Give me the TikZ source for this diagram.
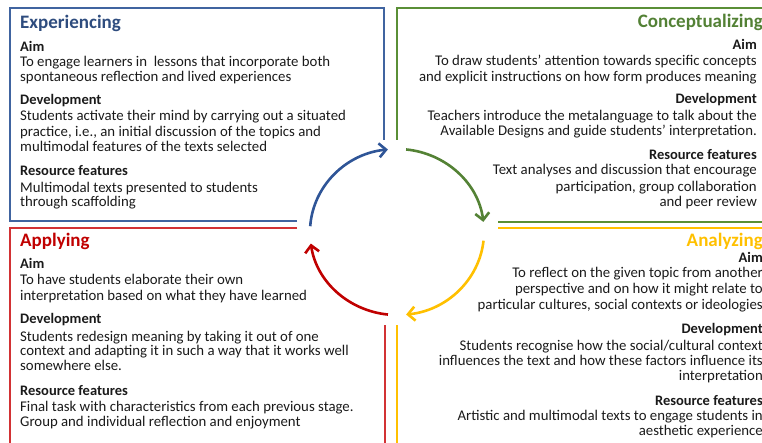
\documentclass[tikz,border=0pt]{standalone}
\usepackage{fontspec}
\setmainfont{Carlito}
\usetikzlibrary{arrows.meta}
\definecolor{bluebox}{HTML}{4064A0}
\definecolor{bluehead}{HTML}{2E4C7E}
\definecolor{bluearc}{HTML}{2F5597}
\definecolor{greenbox}{HTML}{5A8F36}
\definecolor{greenhead}{HTML}{538135}
\definecolor{greenarc}{HTML}{548235}
\definecolor{redbox}{HTML}{D23234}
\definecolor{redhead}{HTML}{C00000}
\definecolor{yellowc}{HTML}{FFC000}
\definecolor{txt}{HTML}{1A1A1A}
\tikzset{
  boxline/.style={line width=1.5pt},
  cyc/.style={line width=2.6pt,-{Straight Barb[length=7pt,width=14pt,line width=2.6pt]}},
  bodyL/.style={anchor=base west,inner sep=0pt,text=txt,font=\fontsize{14.8}{16}\selectfont},
  bodyR/.style={anchor=base east,inner sep=0pt,text=txt,font=\fontsize{14.8}{16}\selectfont},
  labL/.style={bodyL,font=\fontsize{14.5}{16}\selectfont\bfseries},
  labR/.style={bodyR,font=\fontsize{14.5}{16}\selectfont\bfseries},
  headL/.style={anchor=base west,inner sep=0pt,font=\fontsize{19}{22}\selectfont\bfseries},
  headR/.style={anchor=base east,inner sep=0pt,font=\fontsize{19}{22}\selectfont\bfseries},
}
\begin{document}
\begin{tikzpicture}[x=1pt,y=-1pt]
\useasboundingbox (0,0) rectangle (762,443);
% boxes
\draw[boxline,bluebox] (297,221) -- (10,221) -- (10,8) -- (384,8) -- (384,140);
\draw[boxline,greenbox] (397,140) -- (397,8) -- (770,8);
\draw[boxline,greenbox] (498,222) -- (770,222);
\draw[boxline,redbox] (297,228) -- (10,228) -- (10,450);
\draw[boxline,redbox] (385,325) -- (385,450);
\draw[boxline,yellowc] (498,228) -- (770,228);
\draw[boxline,yellowc] (397,325) -- (397,450);
% cycle
\coordinate (c) at (397,232);
\draw[cyc,bluearc] (c) ++(184:87 and 83) arc[start angle=184,end angle=264,x radius=87,y radius=83];
\draw[cyc,greenarc] (c) ++(276:87 and 83) arc[start angle=276,end angle=353,x radius=87,y radius=83];
\draw[cyc,yellowc] (c) ++(6:87 and 83) arc[start angle=6,end angle=84,x radius=87,y radius=83];
\draw[cyc,redhead] (c) ++(96:87 and 83) arc[start angle=96,end angle=172,x radius=87,y radius=83];
% Experiencing
\node[headL,bluehead] (eh) at (20,29) {Experiencing};
\node[labL] (ea) at (20,52) {Aim};
\node[bodyL] (ea1) at (20,67) {To engage learners in\ \ lessons that incorporate both};
\node[bodyL] (ea2) at (20,82) {spontaneous reflection and lived experiences};
\node[labL] (ed) at (20,105) {Development};
\node[bodyL] (ed1) at (20,121) {Students activate their mind by carrying out a situated};
\node[bodyL] (ed2) at (20,137) {practice, i.e., an initial discussion of the topics and};
\node[bodyL] (ed3) at (20,152) {multimodal features of the texts selected};
\node[labL] (er) at (20,176) {Resource features};
\node[bodyL] (er1) at (20,193) {Multimodal texts presented to students};
\node[bodyL] (er2) at (20,207) {through scaffolding};
% Conceptualizing
\node[headR,greenhead] (ch) at (763,28) {Conceptualizing};
\node[labR] (ca) at (757,50) {Aim};
\node[bodyR] (ca1) at (757,66) {To draw students’ attention towards specific concepts};
\node[bodyR] (ca2) at (757,82) {and explicit instructions on how form produces meaning};
\node[labR] (cd) at (757,104) {Development};
\node[bodyR] (cd1) at (757,121) {Teachers introduce the metalanguage to talk about the};
\node[bodyR] (cd2) at (757,136) {Available Designs and guide students’ interpretation.};
\node[labR] (cr) at (757,160) {Resource features};
\node[bodyR] (cr1) at (757,175) {Text analyses and discussion that encourage};
\node[bodyR] (cr2) at (757,192) {participation, group collaboration};
\node[bodyR] (cr3) at (757,207) {and peer review};
% Applying
\node[headL,redhead] (ah) at (20,247) {Applying};
\node[labL] (aa) at (20,269) {Aim};
\node[bodyL] (aa1) at (20,285) {To have students elaborate their own};
\node[bodyL] (aa2) at (20,300) {interpretation based on what they have learned};
\node[labL] (ad) at (20,323) {Development};
\node[bodyL] (ad1) at (20,341) {Students redesign meaning by taking it out of one};
\node[bodyL] (ad2) at (20,355) {context and adapting it in such a way that it works well};
\node[bodyL] (ad3) at (20,370) {somewhere else.};
\node[labL] (ar) at (20,395) {Resource features};
\node[bodyL] (ar1) at (20,411) {Final task with characteristics from each previous stage.};
\node[bodyL] (ar2) at (20,426) {Group and individual reflection and enjoyment};
% Analyzing
\node[headR,yellowc] (nh) at (763,247) {Analyzing};
\node[labR] (na) at (763,263) {Aim};
\node[bodyR] (na1) at (763,278) {To reflect on the given topic from another};
\node[bodyR] (na2) at (763,294) {perspective and on how it might relate to};
\node[bodyR] (na3) at (763,309) {particular cultures, social contexts or ideologies};
\node[labR] (nd) at (763,333) {Development};
\node[bodyR] (nd1) at (763,350) {Students recognise how the social/cultural context};
\node[bodyR] (nd2) at (763,365) {influences the text and how these factors influence its};
\node[bodyR] (nd3) at (763,380) {interpretation};
\node[labR] (nr) at (763,405) {Resource features};
\node[bodyR] (nr1) at (763,420) {Artistic and multimodal texts to engage students in};
\node[bodyR] (nr2) at (763,435) {aesthetic experience};
\end{tikzpicture}
\end{document}
